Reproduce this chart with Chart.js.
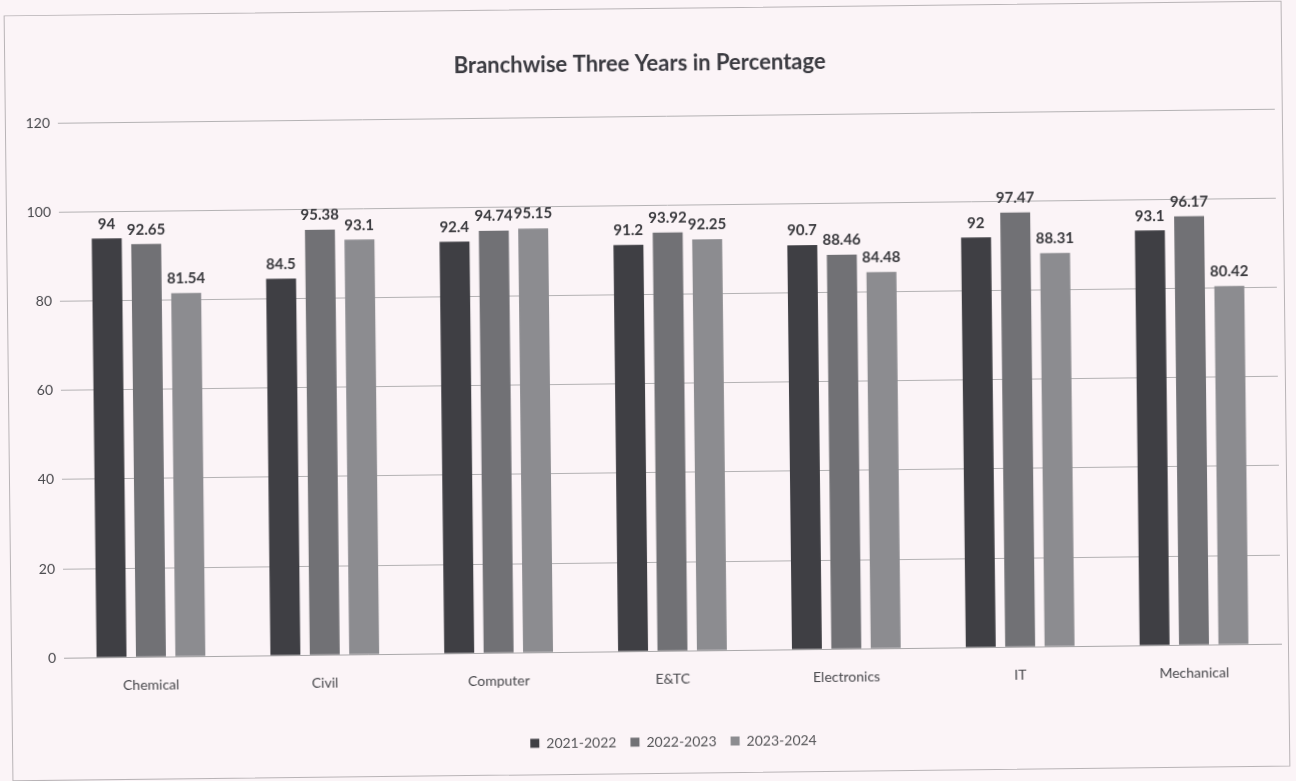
<!DOCTYPE html>
<html>
<head>
<meta charset="utf-8">
<script src="https://cdn.jsdelivr.net/npm/chart.js@4.4.1/dist/chart.umd.min.js"></script>
<style>
  html, body { margin: 0; padding: 0; background: #fbf4f7; }
  body { width: 1296px; height: 781px; overflow: hidden; position: relative; }
  #frame {
    position: absolute; left: 8px; top: 8px; width: 1278px; height: 766px;
    border: 1px solid #b9b4b7; box-sizing: border-box;
    transform: rotate(-0.66deg); transform-origin: 50% 50%;
  }
  #chart { display: block; }
</style>
</head>
<body>
<div id="frame"><canvas id="chart" width="1276" height="764"></canvas></div>
<script>
const branches = ['Chemical', 'Civil', 'Computer', 'E&TC', 'Electronics', 'IT', 'Mechanical'];
const yearLabels = ['2021-2022', '2022-2023', '2023-2024'];
const results2021 = [94, 84.5, 92.4, 91.2, 90.7, 92, 93.1];
const results2022 = [92.65, 95.38, 94.74, 93.92, 88.46, 97.47, 96.17];
const results2023 = [81.54, 93.1, 95.15, 92.25, 84.48, 88.31, 80.42];
const yTicks = [0, 20, 40, 60, 80, 100, 120];

const face = "Lato, 'Liberation Sans Narrow', Roboto, sans-serif";

// Value labels above each bar
const barValues = {
  id: 'barValues',
  afterDatasetsDraw(chart) {
    const ctx = chart.ctx;
    ctx.save();
    ctx.font = "bold 15px " + face;
    ctx.fillStyle = '#3a3a3e';
    ctx.textAlign = 'center';
    ctx.textBaseline = 'bottom';
    chart.data.datasets.forEach((ds, i) => {
      chart.getDatasetMeta(i).data.forEach((bar, j) => {
        ctx.fillText(String(ds.data[j]), bar.x, bar.y - 7);
      });
    });
    ctx.restore();
  }
};

new Chart(document.getElementById('chart'), {
  type: 'bar',
  data: {
    labels: branches,
    datasets: [
      { label: yearLabels[0], data: results2021, backgroundColor: '#3f3f44' },
      { label: yearLabels[1], data: results2022, backgroundColor: '#717175' },
      { label: yearLabels[2], data: results2023, backgroundColor: '#8c8c90' }
    ]
  },
  options: {
    responsive: false,
    animation: false,
    devicePixelRatio: 1,
    layout: { padding: { left: 0, right: 7, top: 0, bottom: 14 } },
    datasets: { bar: { categoryPercentage: 0.68, barPercentage: 0.76 } },
    plugins: {
      title: {
        display: true,
        text: 'Branchwise Three Years in Percentage',
        color: '#3a3a40',
        font: { family: face, size: 22, weight: 'bold' },
        padding: { top: 42, bottom: 39 }
      },
      legend: {
        position: 'bottom',
        fullSize: false,
        labels: {
          color: '#555558',
          font: { family: face, size: 14 },
          boxWidth: 9, boxHeight: 9,
          padding: 14
        }
      },
      tooltip: { enabled: false }
    },
    scales: {
      x: {
        grid: { display: false },
        border: { display: true, color: '#aaa8aa', width: 1 },
        ticks: { color: '#48484c', font: { family: face, size: 14 }, padding: 12 },
        afterFit(axis) { axis.height += 21; }
      },
      y: {
        min: 0, max: 120,
        afterBuildTicks(axis) { axis.ticks = yTicks.map(v => ({ value: v })); },
        afterFit(axis) { axis.width = 52; },
        grid: { color: '#b4b2b4', drawTicks: false },
        border: { display: false },
        ticks: { color: '#48484c', font: { family: face, size: 14 }, padding: 8 }
      }
    }
  },
  plugins: [barValues]
});
</script>
</body>
</html>
